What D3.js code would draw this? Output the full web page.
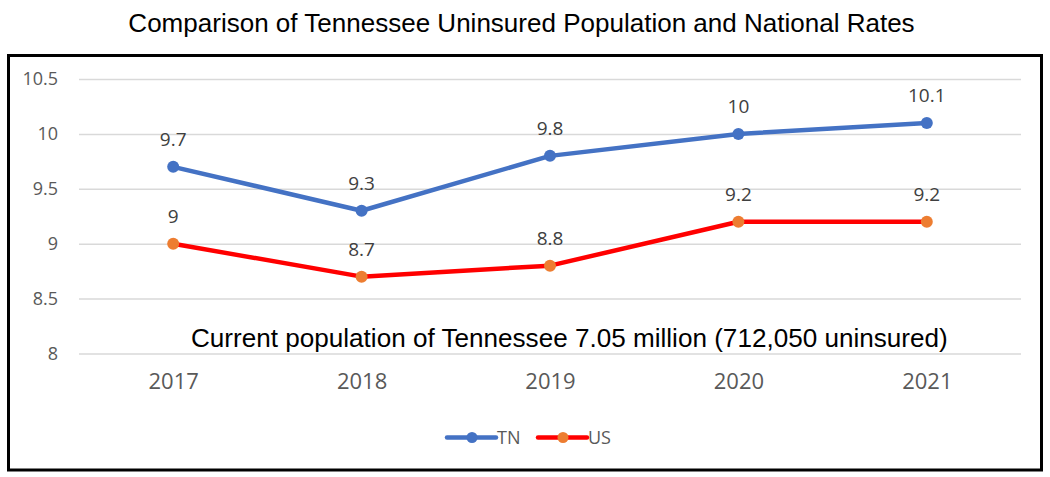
<!DOCTYPE html>
<html><head><meta charset="utf-8">
<script src="https://cdn.jsdelivr.net/npm/d3@7"></script>
<style>body{margin:0;background:#fff}</style>
</head><body>
<svg id="c" width="1050" height="477"></svg>
<script>
const years = ["2017","2018","2019","2020","2021"];
const tnValues = [9.7, 9.3, 9.8, 10, 10.1];
const usValues = [9, 8.7, 8.8, 9.2, 9.2];
const yTicks = [8, 8.5, 9, 9.5, 10, 10.5];
const seriesNames = ["TN","US"];
const titleText = "Comparison of Tennessee Uninsured Population and National Rates";
const noteText = "Current population of Tennessee 7.05 million (712,050 uninsured)";

const svg = d3.select("#c");
const W = 1050, H = 477;
const m = {left:79, right:1021, top:79, bottom:353.5};
const x = d3.scalePoint().domain(years).range([m.left, m.right]).padding(0.5);
const y = d3.scaleLinear().domain([8, 10.5]).range([m.bottom, m.top]);

// outer frame
svg.append("rect").attr("x",8.5).attr("y",55.5).attr("width",1033).attr("height",414.5)
  .attr("fill","none").attr("stroke","#000").attr("stroke-width",3);

// title
const title = svg.append("text").attr("x",521.5).attr("y",31.5).attr("text-anchor","middle")
  .attr("font-family","Liberation Sans, Arial, sans-serif").attr("font-size",22).attr("fill","#000")
  .text(titleText);
{ const w = title.node().getComputedTextLength(); title.attr("font-size", 22*787/w); }

// gridlines
const yAxis = d3.axisLeft(y).tickValues(yTicks).tickSize(-(m.right-m.left)).tickPadding(21)
  .tickFormat(d => d3.format("")(d));
const ga = svg.append("g").attr("transform",`translate(${m.left},0)`).call(yAxis);
ga.select(".domain").remove();
ga.selectAll(".tick line").attr("stroke","#d9d9d9").attr("stroke-width",1.5);
ga.selectAll(".tick text").attr("font-family","Open Sans, sans-serif").attr("font-size",18).attr("fill","#595959");

// x axis labels
const xAxis = d3.axisBottom(x).tickSize(0).tickPadding(20);
const gx = svg.append("g").attr("transform",`translate(0,${m.bottom})`).call(xAxis);
gx.select(".domain").remove();
gx.selectAll(".tick text").attr("font-family","Open Sans, sans-serif").attr("font-size",22).attr("fill","#595959");

// annotation
const note = svg.append("text").attr("x",191).attr("y",347)
  .attr("font-family","Liberation Sans, Arial, sans-serif").attr("font-size",24).attr("fill","#000")
  .text(noteText);
{ const w = note.node().getComputedTextLength(); note.attr("font-size", 24*757/w); }

const series = [
  {name:seriesNames[0], values:tnValues, line:"#4472C4", dot:"#4472C4"},
  {name:seriesNames[1], values:usValues, line:"#FF0000", dot:"#ED7D31"}
];
const line = d3.line().x((d,i)=>x(years[i])).y(d=>y(d));
series.forEach(s=>{
  svg.append("path").datum(s.values).attr("d",line).attr("fill","none")
    .attr("stroke",s.line).attr("stroke-width",4.5).attr("stroke-linejoin","round");
  svg.selectAll(null).data(s.values).enter().append("circle")
    .attr("cx",(d,i)=>x(years[i])).attr("cy",d=>y(d)).attr("r",6).attr("fill",s.dot);
  svg.selectAll(null).data(s.values).enter().append("text")
    .attr("x",(d,i)=>x(years[i])).attr("y",d=>y(d)-21).attr("text-anchor","middle")
    .attr("font-family","Open Sans, sans-serif").attr("font-size",19).attr("fill","#404040")
    .text(d=>d);
});

// legend
const leg = [{x0:447, x1:496, cx:472, tx:497}, {x0:538, x1:587, cx:563, tx:588}];
series.forEach((s,i)=>{
  const L = leg[i], ly = 437.5;
  svg.append("line").attr("x1",L.x0).attr("x2",L.x1).attr("y1",ly).attr("y2",ly)
    .attr("stroke",s.line).attr("stroke-width",4.5).attr("stroke-linecap","round");
  svg.append("circle").attr("cx",L.cx).attr("cy",ly).attr("r",5.5).attr("fill",s.dot);
  svg.append("text").attr("x",L.tx).attr("y",ly+6).attr("font-family","Open Sans, sans-serif")
    .attr("font-size",18).attr("fill","#595959").text(s.name);
});
</script>
</body></html>
